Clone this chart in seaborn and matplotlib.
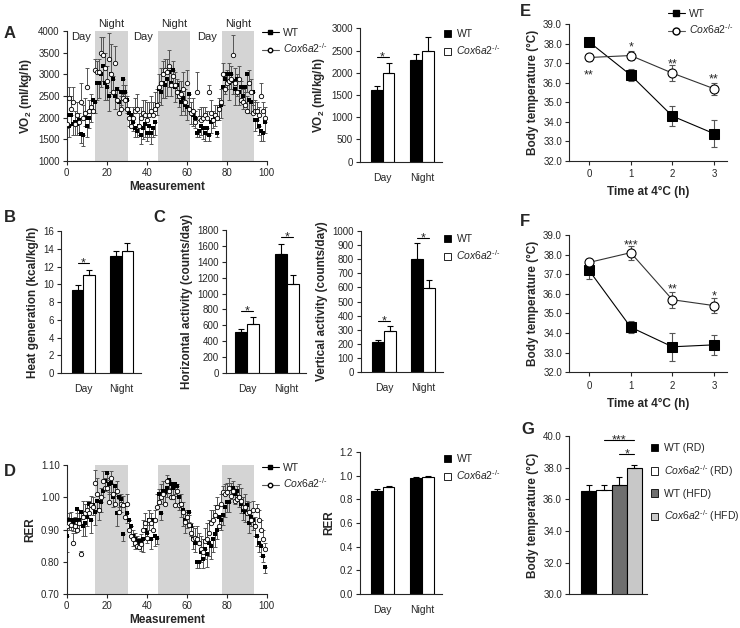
import matplotlib
matplotlib.use("Agg")
import matplotlib.pyplot as plt
from matplotlib.lines import Line2D
from matplotlib.patches import Patch
import seaborn as sns
import pandas as pd
import numpy as np

# ---- data ----
nights = [(14, 30.5), (45.5, 61.5), (77.5, 93.5)]

vo2_wt = [2050, 1800, 2050, 1850, 1900, 1850, 1950, 1620, 1600, 2000, 1800, 2000, 2200, 2400, 2350,
          2800, 2800, 3000, 3200, 2800, 2700, 2500, 3000, 2900, 2500, 2650, 2350, 2600, 2900, 2600, 2400,
          2100, 2050, 1900, 1750, 1700, 1800, 1600, 1750, 1850, 1650, 1800, 1650, 1750, 1900, 2300,
          2650, 2600, 2800, 2750, 2900, 3050, 2800, 3100, 2700, 2750, 2600, 2350, 2450, 2300, 2250, 2550,
          2150, 2050, 2000, 1650, 1700, 1800, 1750, 1650, 1750, 1600, 1900, 1950, 2000, 1650, 2200, 2300,
          2700, 2900, 3000, 2800, 3000, 2850, 2650, 2900, 2600, 2700, 2500, 2700, 3000, 2400, 2350, 2600,
          1950, 1950, 1800, 1700, 1650, 1900]
vo2_ko = [1850, 2450, 2200, 2350, 1850, 2050, 1900, 2350, 2000, 2100, 2700, 2150, 2250, 2150, 3100,
          3050, 3050, 3500, 3450, 3150, 2850, 3350, 3000, 2600, 3250, 2400, 2100, 2200, 2450, 2400, 2200,
          2000, 1800, 2000, 2150, 2200, 1800, 2000, 2100, 2050, 1950, 2050, 2150, 2050, 2200, 2300,
          2700, 2800, 3000, 3100, 3050, 3200, 2750, 2950, 2750, 2600, 2500, 2550, 2650, 2350, 2800, 2200,
          2100, 2150, 1900, 2600, 2000, 1950, 2000, 2050, 2000, 2600, 2100, 1950, 2050, 2000, 2200, 2350,
          3000, 2650, 2800, 2850, 2900, 3450, 2800, 2600, 2900, 2400, 2350, 2300, 2150, 2800, 2600, 2100,
          2150, 2150, 2050, 2500, 2150, 2000]
vo2_wt_err = [300, 250, 200, 250, 300, 250, 300, 200, 250, 200, 250, 250, 300, 250, 250,
              400, 350, 300, 350, 400, 300, 350, 400, 350, 300, 300, 250, 300, 350, 400, 300,
              300, 250, 200, 200, 150, 200, 200, 250, 300, 200, 250, 250, 200, 300, 250,
              300, 300, 350, 300, 400, 350, 300, 400, 350, 300, 350, 300, 300, 250, 300, 350,
              300, 250, 250, 100, 150, 200, 250, 200, 150, 150, 250, 200, 200, 100, 250, 300,
              400, 350, 350, 400, 350, 300, 350, 400, 300, 350, 300, 350, 400, 300, 250, 300,
              250, 200, 200, 250, 200, 250]
vo2_ko_err = [250, 250, 300, 350, 300, 300, 200, 450, 300, 350, 450, 250, 300, 250, 250,
              250, 300, 350, 400, 350, 350, 600, 700, 350, 400, 300, 300, 300, 300, 350, 300,
              250, 300, 250, 300, 350, 300, 250, 300, 350, 400, 300, 350, 300, 400, 350,
              300, 350, 300, 250, 300, 350, 400, 350, 300, 300, 350, 300, 400, 300, 300, 250,
              250, 300, 250, 450, 200, 300, 250, 200, 150, 150, 300, 200, 250, 300, 250, 300,
              250, 300, 300, 400, 300, 450, 350, 400, 300, 450, 300, 300, 350, 300, 300, 250,
              250, 200, 200, 300, 200, 250]

rer_wt = [0.88, 0.93, 0.93, 0.925, 0.93, 0.965, 0.93, 0.955, 0.91, 0.92, 0.94, 0.98, 0.93, 0.975, 0.955,
          0.99, 0.96, 0.985, 1.02, 1.05, 1.075, 1.04, 1.045, 1.00, 1.035, 0.95, 1.00, 0.995, 0.885, 0.975, 0.95,
          0.93, 0.91, 0.88, 0.87, 0.865, 0.86, 0.865, 0.87, 0.90, 0.89, 0.93, 0.87, 0.93, 0.88, 0.875,
          1.01, 0.95, 1.02, 1.015, 1.03, 1.055, 1.04, 1.03, 1.04, 1.035, 1.00, 0.98, 0.96, 0.93, 0.935, 0.955,
          0.91, 0.87, 0.86, 0.80, 0.80, 0.83, 0.81, 0.84, 0.825, 0.86, 0.85, 0.87, 0.885, 0.90, 0.94, 0.93,
          0.945, 0.97, 0.985, 0.985, 1.025, 1.03, 1.01, 1.02, 1.00, 0.98, 0.96, 0.955, 0.975, 0.92, 0.94, 0.93,
          0.91, 0.88, 0.86, 0.85, 0.82, 0.785]
rer_ko = [0.91, 0.92, 0.915, 0.86, 0.91, 0.90, 0.92, 0.825, 0.94, 0.95, 0.96, 0.95, 0.975, 0.97, 1.045,
          1.01, 0.96, 1.00, 1.05, 1.03, 1.03, 0.985, 1.06, 1.01, 0.98, 1.02, 0.955, 0.98, 0.975, 0.94, 0.98,
          0.90, 0.88, 0.87, 0.86, 0.85, 0.845, 0.855, 0.90, 0.92, 0.875, 0.93, 0.92, 0.90, 0.93, 0.97,
          0.985, 1.00, 1.01, 0.98, 1.05, 1.02, 1.00, 1.00, 0.975, 1.02, 0.975, 0.98, 0.955, 0.925, 0.94, 0.915,
          0.89, 0.87, 0.875, 0.87, 0.86, 0.84, 0.83, 0.865, 0.87, 0.89, 0.92, 0.93, 0.945, 0.97, 0.91, 0.98,
          1.015, 1.01, 1.015, 1.03, 1.005, 1.02, 0.99, 0.995, 1.00, 0.99, 0.97, 0.97, 0.95, 0.955, 0.93, 0.96,
          0.91, 0.96, 0.93, 0.90, 0.87, 0.84]
rer_wt_err = [0.05, 0.03, 0.03, 0.03, 0.04, 0.03, 0.03, 0.04, 0.03, 0.04, 0.03, 0.03, 0.04, 0.03, 0.04,
              0.03, 0.03, 0.03, 0.02, 0.03, 0.02, 0.03, 0.03, 0.03, 0.03, 0.04, 0.03, 0.04, 0.02, 0.04, 0.03,
              0.03, 0.03, 0.03, 0.03, 0.02, 0.02, 0.03, 0.04, 0.03, 0.03, 0.03, 0.03, 0.03, 0.03, 0.02,
              0.03, 0.02, 0.04, 0.03, 0.03, 0.03, 0.04, 0.03, 0.03, 0.03, 0.04, 0.04, 0.05, 0.04, 0.03, 0.03,
              0.03, 0.03, 0.03, 0.02, 0.02, 0.03, 0.03, 0.03, 0.04, 0.04, 0.04, 0.04, 0.04, 0.03, 0.03, 0.03,
              0.03, 0.03, 0.03, 0.03, 0.03, 0.02, 0.03, 0.03, 0.03, 0.03, 0.03, 0.03, 0.03, 0.03, 0.03, 0.03,
              0.03, 0.03, 0.03, 0.03, 0.02, 0.02]
rer_ko_err = [0.03, 0.03, 0.04, 0.03, 0.03, 0.05, 0.03, 0.01, 0.05, 0.03, 0.03, 0.04, 0.03, 0.03, 0.04,
              0.05, 0.03, 0.03, 0.03, 0.03, 0.03, 0.03, 0.02, 0.03, 0.03, 0.03, 0.04, 0.03, 0.03, 0.04, 0.03,
              0.03, 0.03, 0.03, 0.03, 0.03, 0.03, 0.03, 0.03, 0.03, 0.04, 0.03, 0.03, 0.03, 0.03, 0.04,
              0.04, 0.04, 0.04, 0.03, 0.02, 0.03, 0.03, 0.03, 0.03, 0.02, 0.03, 0.03, 0.03, 0.03, 0.02, 0.03,
              0.03, 0.04, 0.03, 0.04, 0.03, 0.04, 0.04, 0.04, 0.05, 0.04, 0.04, 0.03, 0.03, 0.03, 0.03, 0.03,
              0.02, 0.03, 0.03, 0.03, 0.04, 0.03, 0.03, 0.04, 0.04, 0.04, 0.03, 0.04, 0.04, 0.03, 0.03, 0.03,
              0.03, 0.02, 0.03, 0.03, 0.03, 0.02]

periods = ["Day", "Night"]
vo2_bar_wt, vo2_bar_wt_err = [1610, 2290], [100, 130]
vo2_bar_ko, vo2_bar_ko_err = [2000, 2500], [210, 310]
heat_wt, heat_wt_err = [9.4, 13.2], [0.5, 0.5]
heat_ko, heat_ko_err = [11.0, 13.7], [0.6, 1.0]
hact_wt, hact_wt_err = [510, 1500], [40, 130]
hact_ko, hact_ko_err = [620, 1120], [80, 110]
vact_wt, vact_wt_err = [215, 800], [15, 110]
vact_ko, vact_ko_err = [290, 595], [40, 55]
rer_bar_wt, rer_bar_wt_err = [0.87, 0.98], [0.015, 0.006]
rer_bar_ko, rer_bar_ko_err = [0.905, 0.99], [0.01, 0.005]

cold_hours = [0, 1, 2, 3]
tempE_wt, tempE_wt_err = [38.1, 36.4, 34.3, 33.4], [0.15, 0.3, 0.5, 0.7]
tempE_ko, tempE_ko_err = [37.3, 37.4, 36.5, 35.7], [0.2, 0.25, 0.4, 0.3]
starsE = ["**", "*", "**", "**"]
tempF_wt, tempF_wt_err = [37.2, 34.3, 33.3, 33.4], [0.45, 0.3, 0.7, 0.5]
tempF_ko, tempF_ko_err = [37.6, 38.1, 35.7, 35.4], [0.2, 0.35, 0.4, 0.4]
starsF = ["", "***", "**", "*"]

diet_groups = ["WT (RD)", "Cox6a2 (RD)", "WT (HFD)", "Cox6a2 (HFD)"]
diet_temp = [36.5, 36.6, 36.9, 38.0]
diet_err = [0.4, 0.3, 0.5, 0.15]
diet_colors = ["black", "white", "#6e6e6e", "#c8c8c8"]

KO_LABEL = "$\\mathit{Cox6a2}^{\\mathrm{\u2010/\u2010}}$"

# ---- style ----
sns.set_style("ticks")
plt.rcParams["font.family"] = ["Liberation Sans", "DejaVu Sans"]
plt.rcParams["mathtext.fontset"] = "custom"
plt.rcParams["mathtext.rm"] = "Liberation Sans"
plt.rcParams["mathtext.it"] = "Liberation Sans:italic"
plt.rcParams["mathtext.bf"] = "Liberation Sans:bold"
plt.rcParams["axes.linewidth"] = 0.8

W, H = 740, 628
fig = plt.figure(figsize=(W / 100, H / 100), dpi=100)


def add_ax(l, t, r, b):
    return fig.add_axes([l / W, 1 - b / H, (r - l) / W, (b - t) / H])


def style_y(ax, ticks, fmt, ylabel):
    sns.despine(ax=ax)
    ax.set_ylim(ticks[0], ticks[-1])
    ax.set_yticks(ticks)
    ax.set_yticklabels([fmt.format(t) for t in ticks])
    ax.tick_params(axis="y", labelsize=7, length=3, width=0.8, pad=2)
    ax.set_ylabel(ylabel, fontsize=8.5, fontweight="bold", labelpad=3)


def star(ax, x, y, text, size=9):
    # y is the visual centre of the asterisks
    ax.annotate(text, xy=(x, y), xytext=(0, -5), textcoords="offset points",
                ha="center", va="baseline", fontsize=size, annotation_clip=False)


def sig_line(ax, x1, x2, y, text):
    ax.plot([x1, x2], [y, y], color="black", lw=0.8, clip_on=False)
    ax.annotate(text, xy=((x1 + x2) / 2, y), xytext=(0, -2.5), textcoords="offset points",
                ha="center", va="baseline", fontsize=9, annotation_clip=False)


def ts_panel(ax, wt, ko, wt_err, ko_err):
    x = np.arange(len(wt))
    zeros = np.zeros(len(wt))
    for a, b in nights:
        ax.axvspan(a, b, color="#d4d4d4", lw=0, zorder=0)
    ax.errorbar(x, wt, yerr=[wt_err, zeros], fmt="none", ecolor="#555555",
                elinewidth=0.7, capsize=1.5, capthick=0.7, zorder=2)
    ax.errorbar(x, ko, yerr=[zeros, ko_err], fmt="none", ecolor="#555555",
                elinewidth=0.7, capsize=1.5, capthick=0.7, zorder=2)
    sns.scatterplot(x=x, y=wt, marker="s", color="black", s=10, linewidth=0, ax=ax, zorder=3)
    sns.scatterplot(x=x, y=ko, marker="o", color="white", edgecolor="black", s=10,
                    linewidth=0.6, ax=ax, zorder=4)
    ax.set_xlim(0, 100)
    ax.set_xticks([0, 20, 40, 60, 80, 100])
    ax.tick_params(axis="x", labelsize=7, length=3, width=0.8, pad=2)
    ax.set_xlabel("Measurement", fontsize=8.5, fontweight="bold", labelpad=2)


def bar_panel(ax, wt, ko, wt_err, ko_err, xlim):
    df = pd.DataFrame({"period": periods * 2,
                       "genotype": ["WT"] * 2 + ["KO"] * 2,
                       "value": list(wt) + list(ko)})
    sns.barplot(data=df, x="period", y="value", hue="genotype", hue_order=["WT", "KO"],
                palette={"WT": "black", "KO": "white"}, edgecolor="black", linewidth=0.8,
                width=0.6, errorbar=None, legend=False, ax=ax)
    centers = []
    for cont, err in zip(ax.containers, [wt_err, ko_err]):
        cs = []
        for p, e in zip(cont, err):
            cx = p.get_x() + p.get_width() / 2
            cs.append(cx)
            ax.errorbar(cx, p.get_height(), yerr=[[0], [e]], fmt="none", ecolor="black",
                        elinewidth=0.8, capsize=2, capthick=0.8)
        centers.append(cs)
    ax.set_xlim(*xlim)
    ax.set_xlabel("")
    ax.tick_params(axis="x", length=0, labelsize=7.5, pad=8)
    return centers


def bar_legend(x_px, y_px, spacing=0.45):
    handles = [Patch(facecolor="black", edgecolor="black", lw=0.6),
               Patch(facecolor="white", edgecolor="black", lw=0.6)]
    fig.legend(handles, ["WT", KO_LABEL], loc="upper left",
               bbox_to_anchor=(x_px / W, 1 - y_px / H), frameon=False, fontsize=7.5,
               handlelength=0.7, handleheight=0.7, handletextpad=0.5, labelspacing=spacing,
               borderpad=0, borderaxespad=0)


def line_legend(x_px, y_px, ms, fs):
    handles = [Line2D([0], [0], color="black", marker="s", ms=ms, lw=0.8),
               Line2D([0], [0], color="#555555", marker="o", ms=ms, mfc="white", mec="black", lw=0.8)]
    fig.legend(handles, ["WT", KO_LABEL], loc="upper left",
               bbox_to_anchor=(x_px / W, 1 - y_px / H), frameon=False, fontsize=fs,
               handlelength=1.6, handletextpad=0.4, labelspacing=0.35,
               borderpad=0, borderaxespad=0)


def panel_letter(x_px, y_px, s):
    fig.text(x_px / W, 1 - y_px / H, s, fontsize=12, fontweight="bold", ha="left", va="center")


# ---- A: VO2 time series ----
axA = add_ax(66.7, 31, 266.7, 161)
ts_panel(axA, vo2_wt, vo2_ko, vo2_wt_err, vo2_ko_err)
style_y(axA, list(range(1000, 4001, 500)), "{:d}", r"VO$_\mathbf{2}$ (ml/kg/h)")
for xc in [7, 38, 70]:
    axA.text(xc, 3870, "Day", ha="center", va="center", fontsize=8)
for a, b in nights:
    axA.text((a + b) / 2, 4160, "Night", ha="center", va="center", fontsize=8, clip_on=False)
line_legend(262, 28, 3.2, 7.5)

axA2 = add_ax(360, 28.3, 442, 161.7)
c = bar_panel(axA2, vo2_bar_wt, vo2_bar_ko, vo2_bar_wt_err, vo2_bar_ko_err, (-0.57, 1.5))
style_y(axA2, list(range(0, 3001, 500)), "{:d}", r"VO$_\mathbf{2}$ (ml/kg/h)")
sig_line(axA2, c[0][0], c[1][0], 2350, "*")
bar_legend(444, 29)

# ---- B: heat generation ----
axB = add_ax(61, 231, 140.9, 373)
c = bar_panel(axB, heat_wt, heat_ko, heat_wt_err, heat_ko_err, (-0.58, 1.5))
style_y(axB, list(range(0, 17, 2)), "{:d}", "Heat generation (kcal/kg/h)")
sig_line(axB, c[0][0], c[1][0], 12.4, "*")

# ---- C: activity ----
axC1 = add_ax(226, 230, 306.4, 373)
c = bar_panel(axC1, hact_wt, hact_ko, hact_wt_err, hact_ko_err, (-0.54, 1.5))
style_y(axC1, list(range(0, 1801, 200)), "{:d}", "Horizontal activity (counts/day)")
sig_line(axC1, c[0][0], c[1][0], 780, "*")
sig_line(axC1, c[0][1], c[1][1], 1716, "*")

axC2 = add_ax(360.7, 230.7, 443, 372.3)
c = bar_panel(axC2, vact_wt, vact_ko, vact_wt_err, vact_ko_err, (-0.59, 1.5))
style_y(axC2, list(range(0, 1001, 100)), "{:d}", "Vertical activity (counts/day)")
sig_line(axC2, c[0][0], c[1][0], 364, "*")
sig_line(axC2, c[0][1], c[1][1], 950, "*")
bar_legend(444, 234)

# ---- D: RER ----
axD = add_ax(66.7, 465, 266.7, 594.3)
ts_panel(axD, rer_wt, rer_ko, rer_wt_err, rer_ko_err)
style_y(axD, [0.70, 0.80, 0.90, 1.00, 1.10], "{:.2f}", "RER")
line_legend(262, 463, 3.2, 7.5)

axD2 = add_ax(360, 452, 442, 594)
bar_panel(axD2, rer_bar_wt, rer_bar_ko, rer_bar_wt_err, rer_bar_ko_err, (-0.57, 1.5))
style_y(axD2, [0.0, 0.2, 0.4, 0.6, 0.8, 1.0, 1.2], "{:.1f}", "RER")
bar_legend(444, 454)


# ---- E / F: body temperature during cold exposure ----
def cold_panel(ax, wt, ko, wt_err, ko_err, stars, star_y):
    ax.errorbar(cold_hours, wt, yerr=wt_err, fmt="none", ecolor="#555555",
                elinewidth=0.8, capsize=2.5, capthick=0.8, zorder=1)
    ax.errorbar(cold_hours, ko, yerr=ko_err, fmt="none", ecolor="#555555",
                elinewidth=0.8, capsize=2.5, capthick=0.8, zorder=1)
    sns.lineplot(x=cold_hours, y=wt, color="black", marker="s", markersize=6.5,
                 markeredgecolor="black", lw=0.8, ax=ax, zorder=3)
    sns.lineplot(x=cold_hours, y=ko, color="#333333", marker="o", markersize=6.5,
                 markerfacecolor="white", markeredgecolor="black", markeredgewidth=0.8,
                 lw=0.8, ax=ax, zorder=3)
    for h, s, y in zip(cold_hours, stars, star_y):
        if s:
            star(ax, h, y, s)
    ax.set_xlim(-0.48, 3.31)
    ax.set_xticks(cold_hours)
    ax.tick_params(axis="x", labelsize=7, length=3, width=0.8, pad=3)
    ax.set_xlabel("Time at 4\u00b0C (h)", fontsize=8.5, fontweight="bold", labelpad=5)
    style_y(ax, [32, 33, 34, 35, 36, 37, 38, 39], "{:.1f}", "Body temperature (\u00b0C)")


axE = add_ax(569, 24.3, 727, 161)
cold_panel(axE, tempE_wt, tempE_ko, tempE_wt_err, tempE_ko_err, starsE, [36.57, 38.03, 37.17, 36.4])
line_legend(668, 9, 5, 7.5)

axF = add_ax(569, 235, 727, 372.3)
cold_panel(axF, tempF_wt, tempF_ko, tempF_wt_err, tempF_ko_err, starsF, [0, 38.66, 36.45, 36.06])

# ---- G: diet ----
axG = add_ax(569, 436, 647, 594.3)
sns.barplot(x=diet_groups, y=diet_temp, hue=diet_groups, palette=diet_colors, edgecolor="black",
            linewidth=0.8, width=1.0, legend=False, ax=axG)
for i, (v, e) in enumerate(zip(diet_temp, diet_err)):
    axG.errorbar(i, v, yerr=[[0], [e]], fmt="none", ecolor="black", elinewidth=0.8,
                 capsize=2, capthick=0.8)
axG.set_xlim(-1.29, 3.83)
axG.set_xticks([])
style_y(axG, [30, 32, 34, 36, 38, 40], "{:.1f}", "Body temperature (\u00b0C)")
sig_line(axG, 1, 3, 39.75, "***")
sig_line(axG, 2, 3, 38.84, "*")
g_handles = [Patch(facecolor=col, edgecolor="black", lw=0.6) for col in diet_colors]
g_labels = ["WT (RD)", KO_LABEL + " (RD)", "WT (HFD)", KO_LABEL + " (HFD)"]
fig.legend(g_handles, g_labels, loc="upper left", bbox_to_anchor=(651 / W, 1 - 443 / H),
           frameon=False, fontsize=7.5, handlelength=0.7, handleheight=0.7, handletextpad=0.5,
           labelspacing=0.95, borderpad=0, borderaxespad=0)

# ---- panel letters ----
panel_letter(4, 34, "A")
panel_letter(4, 218, "B")
panel_letter(153, 218, "C")
panel_letter(4, 472, "D")
panel_letter(520, 11, "E")
panel_letter(520, 222, "F")
panel_letter(521, 430, "G")

fig.savefig("out.png", dpi=100)
